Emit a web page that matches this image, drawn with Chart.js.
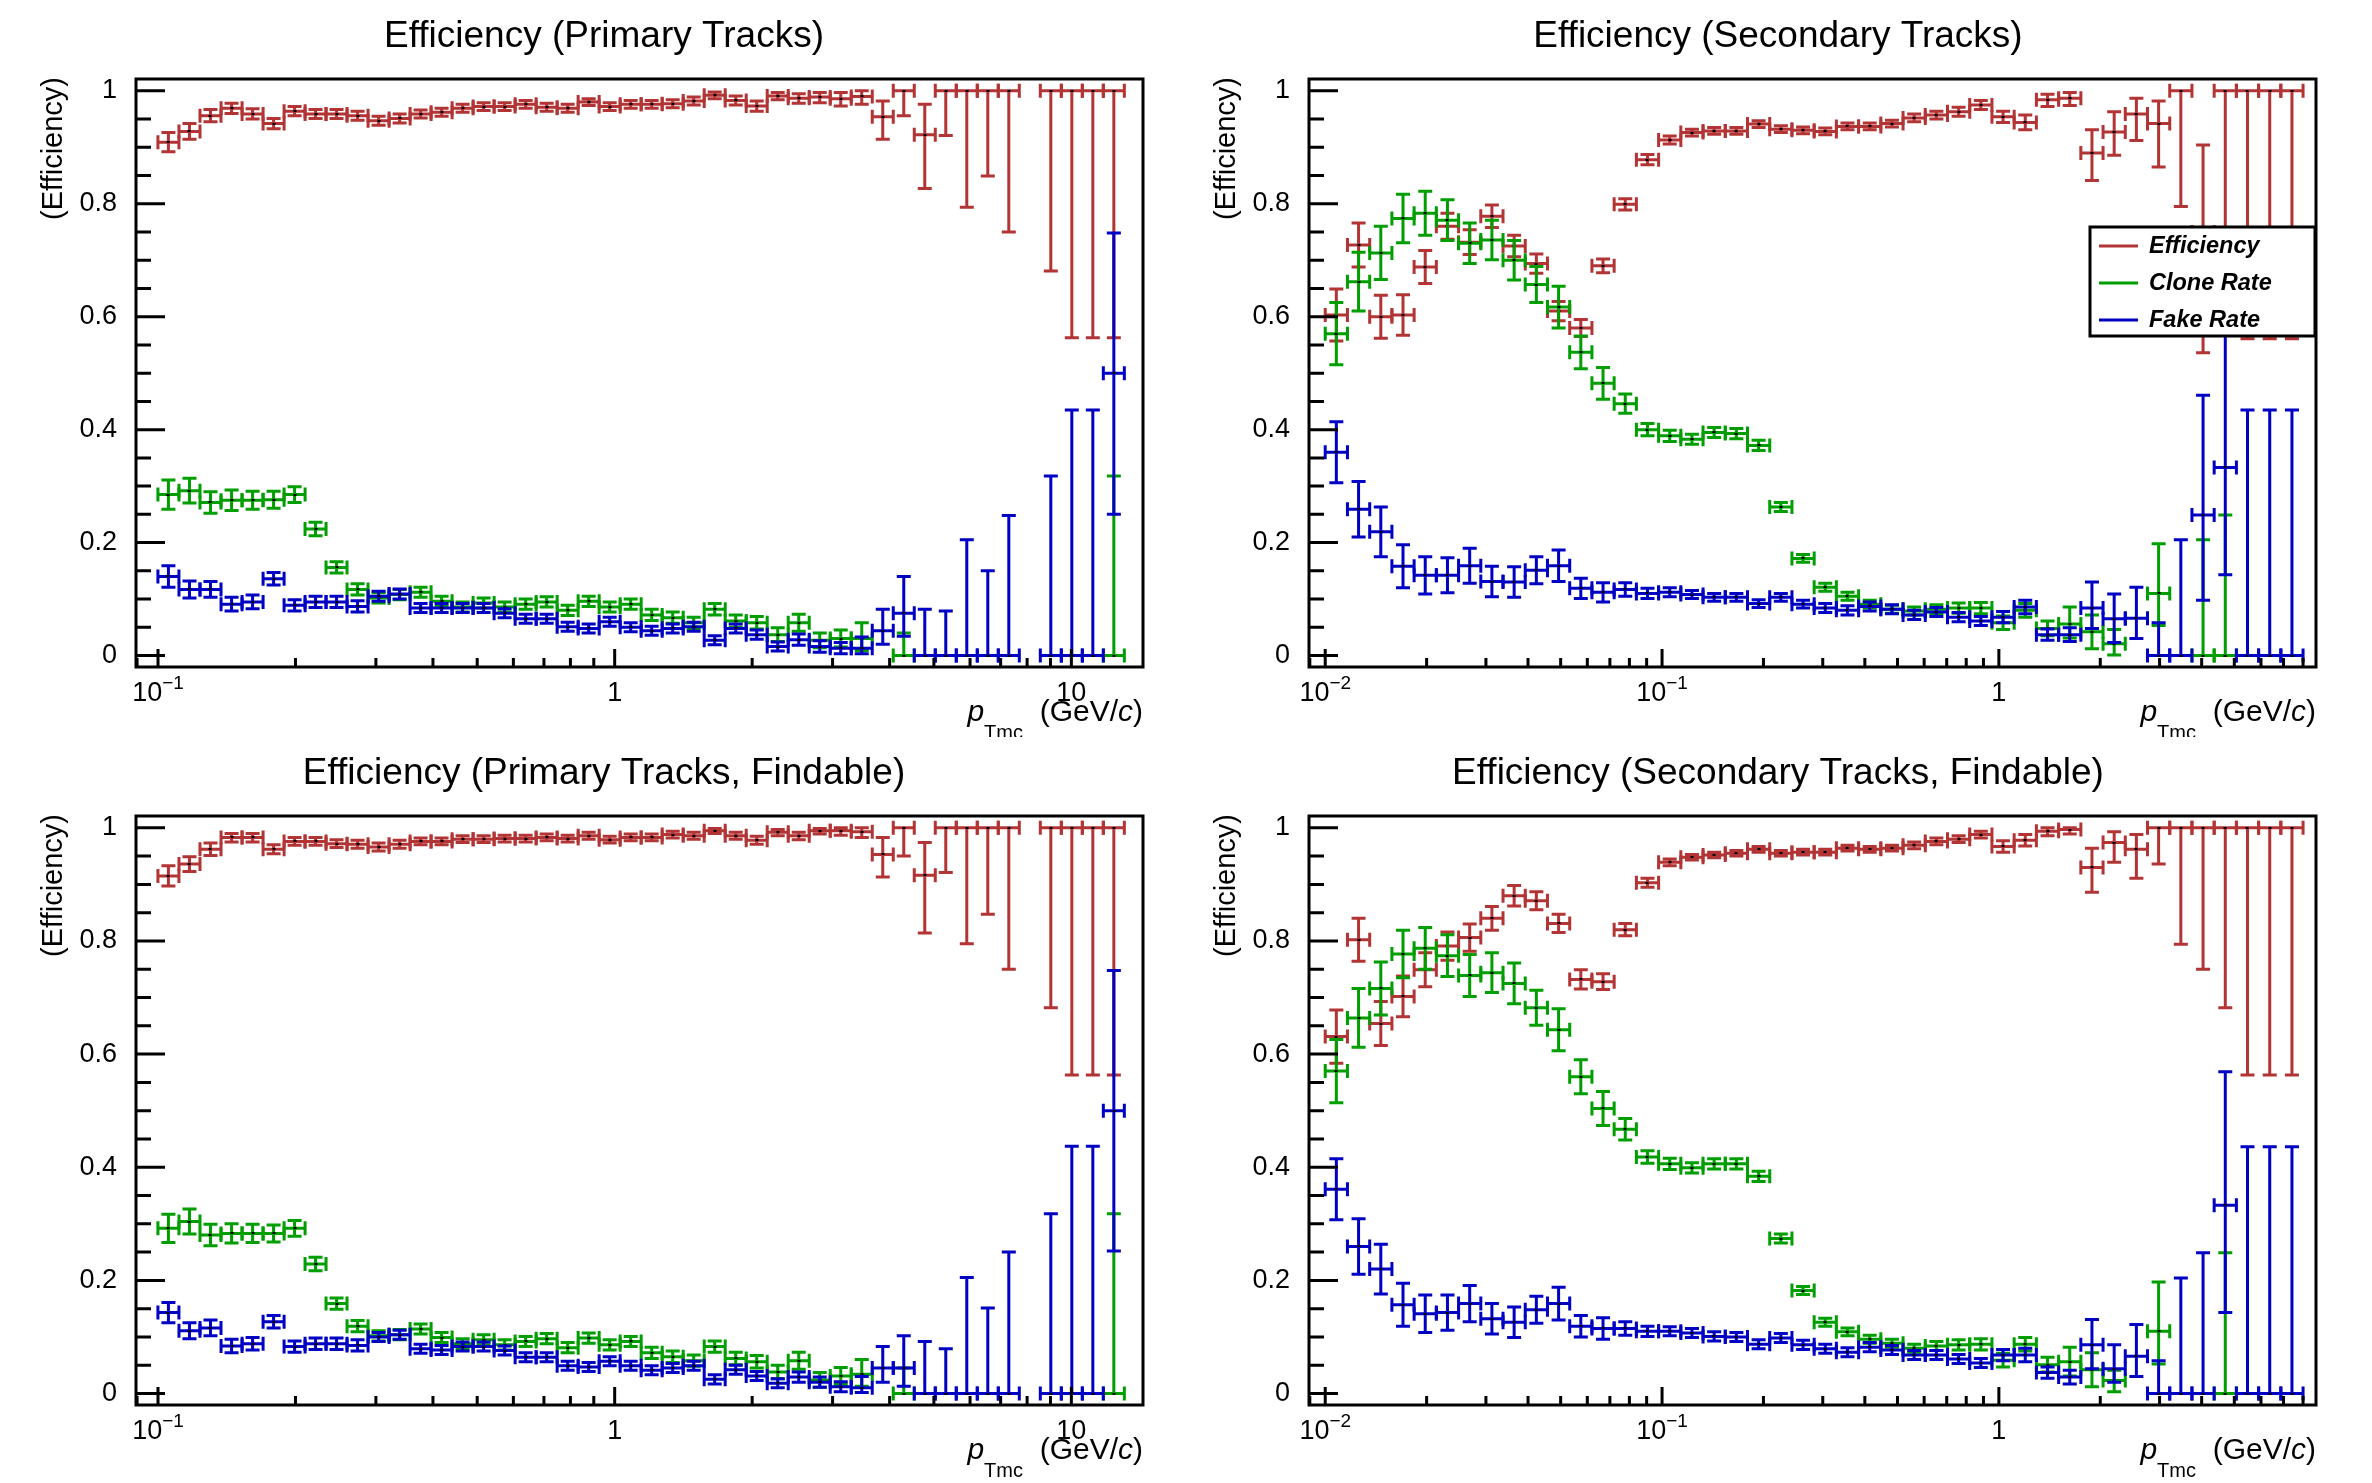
<!DOCTYPE html>
<html><head><meta charset="utf-8">
<script src="https://cdn.jsdelivr.net/npm/chart.js@4.4.1/dist/chart.umd.min.js"></script>
<style>
html,body{margin:0;padding:0;background:#fff;}
body{width:2372px;height:1483px;position:relative;overflow:hidden;}
canvas{position:absolute;}
</style></head><body>
<canvas id="tl" width="1186" height="737" style="left:0;top:0"></canvas>
<canvas id="tr" width="1186" height="737" style="left:1186px;top:0"></canvas>
<canvas id="bl" width="1186" height="746" style="left:0;top:737px"></canvas>
<canvas id="br" width="1186" height="746" style="left:1186px;top:737px"></canvas>
<script>
// ---------------- DATA ----------------
// bin centres (GeV/c)
const primaryPt = [0.1054,0.1172,0.1303,0.1449,0.1611,0.1791,0.1991,0.2213,0.2460,0.2735,
 0.3041,0.3381,0.3758,0.4178,0.4645,0.5164,0.5741,0.6383,0.7096,0.7889,
 0.8770,0.9750,1.0839,1.2050,1.3397,1.4894,1.6558,1.8408,2.0464,2.2751,
 2.5293,2.8119,3.1261,3.4754,3.8637,4.2954,4.7753,5.3088,5.9020,6.5615,
 7.2946,8.1096,9.0157,10.023,11.143,12.388];
const secondaryPt = [0.010789,0.012560,0.014622,0.017019,0.019811,0.023063,0.026846,0.031250,0.036380,0.042348,
 0.049300,0.057386,0.066801,0.077763,0.090527,0.10538,0.12267,0.14279,0.16622,0.19350,
 0.22525,0.26221,0.30518,0.35526,0.41354,0.48140,0.56040,0.65232,0.75940,0.88397,
 1.0290,1.1977,1.3945,1.6233,1.8894,2.1994,2.5601,2.9803,3.4692,4.0385,
 4.7010,5.4718,6.3700,7.4150];
const primaryBinHalfDex = 0.023;
const secondaryBinHalfDex = 0.033;
const yTickValues = [0,0.2,0.4,0.6,0.8,1];
const seriesNames = ['Efficiency','Clone Rate','Fake Rate'];
const panelTitles = ['Efficiency (Primary Tracks)','Efficiency (Secondary Tracks)',
  'Efficiency (Primary Tracks, Findable)','Efficiency (Secondary Tracks, Findable)'];

// ---- top-left: primary tracks ----
const tlEff = [0.909,0.928,0.956,0.969,0.959,0.942,0.964,0.959,0.959,0.956,
 0.947,0.951,0.959,0.962,0.969,0.972,0.972,0.976,0.971,0.969,
 0.980,0.972,0.976,0.976,0.977,0.982,0.992,0.983,0.973,0.991,
 0.987,0.989,0.986,0.990,0.954,1,0.922,1,1,1,
 1,null,1,1,1,1];
const tlEffLo = [0.017,0.014,0.011,0.009,0.009,0.009,0.008,0.008,0.008,0.008,
 0.008,0.008,0.007,0.007,0.007,0.007,0.007,0.007,0.007,0.007,
 0.006,0.007,0.007,0.007,0.007,0.007,0.006,0.008,0.009,0.007,
 0.009,0.010,0.013,0.014,0.040,0.044,0.095,0.079,0.206,0.151,
 0.250,null,0.319,0.4375,0.4375,0.4375];
const tlEffHi = [0.017,0.014,0.011,0.009,0.009,0.009,0.008,0.008,0.008,0.008,
 0.008,0.008,0.007,0.007,0.007,0.007,0.007,0.007,0.007,0.007,
 0.006,0.007,0.007,0.007,0.007,0.007,0.006,0.008,0.009,0.006,
 0.008,0.008,0.011,0.010,0.028,0,0.054,0,0,0,
 0,null,0,0,0,0];
const tlClone = [0.285,0.292,0.271,0.275,0.275,0.276,0.285,0.224,0.156,0.117,
 0.102,0.108,0.112,0.096,0.086,0.093,0.086,0.091,0.095,0.080,
 0.096,0.086,0.091,0.072,0.067,0.058,0.082,0.061,0.058,0.037,
 0.058,0.027,0.030,0.030,null,0,null,null,null,null,
 null,null,null,null,null,0];
const tlCloneLo = [0.026,0.022,0.019,0.018,0.016,0.015,0.014,0.012,0.010,0.010,
 0.009,0.009,0.009,0.009,0.009,0.009,0.009,0.009,0.009,0.009,
 0.009,0.009,0.009,0.010,0.010,0.010,0.010,0.011,0.011,0.012,
 0.015,0.013,0.015,0.021,null,0,null,null,null,null,
 null,null,null,null,null,0];
const tlCloneHi = [0.026,0.022,0.019,0.018,0.016,0.015,0.014,0.012,0.010,0.010,
 0.009,0.009,0.009,0.009,0.009,0.009,0.009,0.009,0.009,0.009,
 0.009,0.009,0.009,0.010,0.010,0.010,0.010,0.011,0.011,0.012,
 0.015,0.013,0.015,0.028,null,0.040,null,null,null,null,
 null,null,null,null,null,0.318];
const tlFake = [0.140,0.117,0.117,0.091,0.095,0.136,0.089,0.095,0.095,0.087,
 0.105,0.109,0.084,0.084,0.084,0.084,0.075,0.065,0.065,0.051,
 0.048,0.060,0.050,0.044,0.048,0.051,0.027,0.048,0.037,0.016,
 0.028,0.016,0.013,0.013,0.044,0.075,0,0,0,0,
 0,null,0,0,0,0.5];
const tlFakeLo = [0.019,0.015,0.014,0.012,0.012,0.011,0.010,0.010,0.010,0.010,
 0.009,0.009,0.008,0.008,0.008,0.008,0.008,0.008,0.008,0.008,
 0.008,0.008,0.008,0.008,0.008,0.008,0.008,0.008,0.008,0.008,
 0.010,0.010,0.010,0.010,0.024,0.041,0,0,0,0,
 0,null,0,0,0,0.25];
const tlFakeHi = [0.019,0.015,0.014,0.012,0.012,0.011,0.010,0.010,0.010,0.010,
 0.009,0.009,0.008,0.008,0.008,0.008,0.008,0.008,0.008,0.008,
 0.008,0.008,0.008,0.008,0.008,0.008,0.008,0.008,0.008,0.008,
 0.010,0.010,0.010,0.020,0.038,0.065,0.082,0.079,0.205,0.150,
 0.248,null,0.318,0.435,0.435,0.248];

// ---- bottom-left: primary tracks, findable ----
const blEff = [0.915,0.936,0.962,0.983,0.983,0.962,0.976,0.976,0.972,0.971,
 0.966,0.971,0.976,0.976,0.980,0.980,0.981,0.981,0.983,0.981,
 0.986,0.979,0.983,0.983,0.988,0.986,0.995,0.986,0.978,0.992,
 0.986,0.995,0.995,0.993,0.953,1,0.916,1,1,1,
 1,null,1,1,1,1];
const blEffLo = [0.018,0.013,0.011,0.008,0.008,0.008,0.007,0.007,0.007,0.007,
 0.007,0.007,0.006,0.006,0.006,0.006,0.006,0.006,0.006,0.006,
 0.006,0.006,0.006,0.006,0.006,0.006,0.005,0.006,0.007,0.006,
 0.007,0.006,0.008,0.010,0.040,0.050,0.102,0.079,0.205,0.153,
 0.250,null,0.318,0.437,0.437,0.437];
const blEffHi = [0.018,0.013,0.011,0.007,0.007,0.008,0.007,0.007,0.007,0.007,
 0.007,0.007,0.006,0.006,0.006,0.006,0.006,0.006,0.006,0.006,
 0.006,0.006,0.006,0.006,0.006,0.006,0.004,0.006,0.007,0.005,
 0.006,0.004,0.005,0.007,0.030,0,0.058,0,0,0,
 0,null,0,0,0,0];
const blClone = [0.292,0.304,0.280,0.283,0.283,0.283,0.292,0.229,0.159,0.119,
 0.102,0.104,0.114,0.099,0.088,0.095,0.086,0.092,0.097,0.081,
 0.098,0.086,0.092,0.072,0.065,0.058,0.083,0.062,0.056,0.038,
 0.058,0.024,0.031,0.034,null,0,null,null,null,null,
 null,null,null,null,null,0];
const blCloneLo = [0.025,0.022,0.019,0.017,0.016,0.015,0.014,0.012,0.010,0.010,
 0.009,0.009,0.009,0.009,0.009,0.009,0.009,0.009,0.009,0.009,
 0.009,0.009,0.009,0.010,0.010,0.010,0.010,0.011,0.011,0.012,
 0.015,0.013,0.015,0.021,null,0,null,null,null,null,
 null,null,null,null,null,0];
const blCloneHi = [0.025,0.022,0.019,0.017,0.016,0.015,0.014,0.012,0.010,0.010,
 0.009,0.009,0.009,0.009,0.009,0.009,0.009,0.009,0.009,0.009,
 0.009,0.009,0.009,0.010,0.010,0.010,0.010,0.011,0.011,0.012,
 0.015,0.013,0.015,0.026,null,0.045,null,null,null,null,
 null,null,null,null,null,0.318];
const blFake = [0.143,0.111,0.116,0.084,0.088,0.127,0.083,0.088,0.088,0.085,
 0.100,0.104,0.079,0.077,0.083,0.083,0.076,0.064,0.064,0.049,
 0.047,0.057,0.049,0.041,0.045,0.049,0.025,0.042,0.031,0.018,
 0.029,0.020,0.012,0.010,0.045,0.045,0,0,0,0,
 0,null,0,0,0,0.5];
const blFakeLo = [0.018,0.014,0.014,0.012,0.011,0.011,0.010,0.010,0.010,0.010,
 0.008,0.008,0.008,0.008,0.008,0.008,0.008,0.008,0.008,0.008,
 0.008,0.008,0.008,0.008,0.008,0.008,0.008,0.008,0.008,0.008,
 0.009,0.009,0.009,0.008,0.025,0.032,0,0,0,0,
 0,null,0,0,0,0.248];
const blFakeHi = [0.018,0.014,0.014,0.012,0.011,0.011,0.010,0.010,0.010,0.010,
 0.008,0.008,0.008,0.008,0.008,0.008,0.008,0.008,0.008,0.008,
 0.008,0.008,0.008,0.008,0.008,0.008,0.008,0.008,0.008,0.008,
 0.009,0.009,0.009,0.020,0.038,0.057,0.092,0.079,0.205,0.151,
 0.250,null,0.318,0.437,0.437,0.248];

// ---- top-right: secondary tracks ----
const trEff = [0.603,0.727,0.600,0.603,0.688,0.760,0.732,0.778,0.725,0.694,
 0.610,0.580,0.690,0.799,0.878,0.913,0.926,0.929,0.929,0.941,
 0.932,0.930,0.928,0.937,0.937,0.942,0.952,0.957,0.963,0.975,
 0.954,0.944,0.984,0.987,0.890,0.927,0.959,0.942,1,0.75,
 1,1,1,1];
const trEffLo = [0.046,0.039,0.038,0.036,0.029,0.023,0.022,0.020,0.019,0.017,
 0.017,0.015,0.012,0.010,0.009,0.007,0.006,0.006,0.006,0.006,
 0.006,0.006,0.006,0.006,0.006,0.006,0.007,0.007,0.008,0.008,
 0.010,0.013,0.012,0.013,0.049,0.041,0.047,0.077,0.205,0.214,
 0.313,0.439,0.439,0.439];
const trEffHi = [0.046,0.039,0.038,0.036,0.029,0.023,0.022,0.020,0.019,0.017,
 0.017,0.015,0.012,0.010,0.009,0.007,0.006,0.006,0.006,0.006,
 0.006,0.006,0.006,0.006,0.006,0.006,0.007,0.007,0.008,0.008,
 0.010,0.013,0.010,0.010,0.041,0.036,0.028,0.040,0,0.154,
 0,0,0,0];
const trClone = [0.570,0.662,0.713,0.774,0.783,0.771,0.730,0.736,0.700,0.657,
 0.617,0.537,0.482,0.446,0.400,0.389,0.383,0.395,0.393,0.372,
 0.263,0.172,0.121,0.105,0.091,0.082,0.079,0.082,0.084,0.084,
 0.058,0.080,0.048,0.056,0.042,0.021,null,0.110,null,0,
 0,null,null,null];
const trCloneLo = [0.055,0.052,0.047,0.043,0.039,0.036,0.036,0.035,0.035,0.032,
 0.037,0.029,0.028,0.017,0.011,0.010,0.009,0.009,0.009,0.009,
 0.008,0.007,0.007,0.007,0.007,0.007,0.007,0.008,0.009,0.010,
 0.012,0.012,0.013,0.025,0.030,0.020,null,0.057,null,0,
 0,null,null,null];
const trCloneHi = [0.055,0.052,0.047,0.043,0.039,0.036,0.036,0.035,0.035,0.032,
 0.037,0.029,0.028,0.017,0.011,0.010,0.009,0.009,0.009,0.009,
 0.008,0.007,0.007,0.007,0.007,0.007,0.007,0.008,0.009,0.010,
 0.012,0.012,0.013,0.030,0.030,0.025,null,0.088,null,0.205,
 0.249,null,null,null];
const trFake = [0.360,0.259,0.219,0.158,0.142,0.142,0.159,0.131,0.130,0.151,
 0.159,0.119,0.112,0.117,0.110,0.112,0.108,0.103,0.103,0.092,
 0.103,0.091,0.084,0.080,0.087,0.082,0.072,0.077,0.068,0.061,
 0.068,0.086,0.037,0.037,0.084,0.065,0.066,0,0,0.249,
 0.333,0,0,0];
const trFakeLo = [0.054,0.049,0.044,0.038,0.033,0.031,0.031,0.027,0.027,0.024,
 0.028,0.018,0.017,0.012,0.009,0.008,0.007,0.007,0.007,0.007,
 0.007,0.007,0.008,0.008,0.008,0.008,0.008,0.008,0.008,0.008,
 0.010,0.012,0.010,0.012,0.036,0.042,0.036,0,0,0.151,
 0.190,0,0,0];
const trFakeHi = [0.054,0.049,0.044,0.038,0.033,0.031,0.031,0.027,0.027,0.024,
 0.028,0.018,0.017,0.012,0.009,0.008,0.007,0.007,0.007,0.007,
 0.007,0.007,0.008,0.008,0.008,0.008,0.008,0.008,0.008,0.008,
 0.010,0.012,0.010,0.012,0.046,0.044,0.055,0.058,0.205,0.212,
 0.240,0.435,0.435,0.435];

// ---- bottom-right: secondary tracks, findable ----
const brEff = [0.631,0.802,0.654,0.702,0.749,0.791,0.806,0.840,0.880,0.871,
 0.831,0.732,0.728,0.820,0.903,0.939,0.948,0.952,0.955,0.962,
 0.955,0.957,0.957,0.964,0.962,0.964,0.969,0.976,0.980,0.988,
 0.967,0.978,0.994,0.997,0.930,0.974,0.962,1,1,1,
 1,1,1,1];
const brEffLo = [0.047,0.038,0.039,0.036,0.030,0.025,0.024,0.021,0.018,0.016,
 0.016,0.017,0.014,0.011,0.008,0.006,0.005,0.005,0.005,0.005,
 0.005,0.005,0.005,0.005,0.005,0.005,0.006,0.006,0.006,0.006,
 0.010,0.010,0.008,0.008,0.044,0.035,0.051,0.064,0.206,0.250,
 0.318,0.437,0.437,0.437];
const brEffHi = [0.047,0.038,0.039,0.036,0.030,0.025,0.024,0.021,0.018,0.016,
 0.016,0.017,0.014,0.011,0.008,0.006,0.005,0.005,0.005,0.005,
 0.005,0.005,0.005,0.005,0.005,0.005,0.006,0.006,0.006,0.006,
 0.010,0.010,0.006,0.003,0.034,0.019,0.026,0,0,0,
 0,0,0,0];
const brClone = [0.570,0.664,0.716,0.777,0.787,0.774,0.739,0.744,0.725,0.682,
 0.643,0.560,0.504,0.467,0.418,0.406,0.399,0.406,0.406,0.384,
 0.274,0.182,0.126,0.109,0.096,0.089,0.080,0.084,0.086,0.087,
 0.059,0.087,0.051,0.056,0.042,0.023,null,0.110,null,null,
 0,null,null,null];
const brCloneLo = [0.056,0.052,0.047,0.042,0.037,0.037,0.037,0.035,0.036,0.031,
 0.037,0.030,0.030,0.019,0.011,0.010,0.009,0.009,0.009,0.009,
 0.008,0.007,0.007,0.007,0.007,0.007,0.007,0.008,0.009,0.010,
 0.012,0.012,0.013,0.025,0.030,0.020,null,0.058,null,null,
 0,null,null,null];
const brCloneHi = [0.056,0.052,0.047,0.042,0.037,0.037,0.037,0.035,0.036,0.031,
 0.037,0.030,0.030,0.019,0.011,0.010,0.009,0.009,0.009,0.009,
 0.008,0.007,0.007,0.007,0.007,0.007,0.007,0.008,0.009,0.010,
 0.012,0.012,0.013,0.026,0.030,0.018,null,0.087,null,null,
 0.249,null,null,null];
const brFake = [0.361,0.260,0.220,0.157,0.141,0.143,0.159,0.132,0.126,0.148,
 0.159,0.119,0.115,0.115,0.110,0.110,0.107,0.101,0.100,0.087,
 0.098,0.086,0.079,0.073,0.082,0.077,0.068,0.068,0.061,0.054,
 0.068,0.068,0.037,0.029,0.086,0.044,0.066,0,0,0,
 0.333,0,0,0];
const brFakeLo = [0.054,0.049,0.044,0.038,0.033,0.031,0.032,0.027,0.027,0.024,
 0.029,0.019,0.019,0.012,0.009,0.008,0.008,0.008,0.008,0.008,
 0.008,0.008,0.008,0.008,0.008,0.008,0.008,0.008,0.008,0.008,
 0.010,0.012,0.010,0.012,0.042,0.024,0.036,0,0,0,
 0.190,0,0,0];
const brFakeHi = [0.054,0.049,0.044,0.038,0.033,0.031,0.032,0.027,0.027,0.024,
 0.029,0.019,0.019,0.012,0.009,0.008,0.008,0.008,0.008,0.008,
 0.008,0.008,0.008,0.008,0.008,0.008,0.008,0.008,0.008,0.008,
 0.010,0.012,0.010,0.012,0.045,0.042,0.056,0.058,0.204,0.249,
 0.236,0.436,0.436,0.436];

// ---------------- STYLE ----------------
const COLORS = ['#b33434','#009e00','#0000c4'];
const FONT = '"Liberation Sans", Arial, Helvetica, sans-serif';
const LW = 3, CAP = 7, FRAME_LW = 3;
const Y_AXIS_W = 100;

// error-bar drawing (ROOT style "E1 with end ticks")
const errorBarPlugin = {
  id: 'rootErrorBars',
  afterDatasetsDraw(chart) {
    const ctx = chart.ctx, xs = chart.scales.x, ys = chart.scales.y, a = chart.chartArea;
    ctx.save();
    ctx.beginPath(); ctx.rect(a.left, a.top, a.right - a.left, a.bottom - a.top); ctx.clip();
    chart.data.datasets.forEach(ds => {
      const f = Math.pow(10, ds.halfDex);
      ctx.strokeStyle = ds.borderColor; ctx.lineWidth = LW; ctx.lineCap = 'butt';
      ds.data.forEach(p => {
        const px = xs.getPixelForValue(p.x), py = ys.getPixelForValue(p.y);
        const x0 = xs.getPixelForValue(p.x / f), x1 = xs.getPixelForValue(p.x * f);
        const y0 = ys.getPixelForValue(p.y - p.lo), y1 = ys.getPixelForValue(p.y + p.hi);
        ctx.beginPath();
        ctx.moveTo(x0, py); ctx.lineTo(x1, py);
        ctx.moveTo(x0, py - CAP); ctx.lineTo(x0, py + CAP);
        ctx.moveTo(x1, py - CAP); ctx.lineTo(x1, py + CAP);
        if (p.lo > 0 || p.hi > 0) {
          ctx.moveTo(px, y0); ctx.lineTo(px, y1);
          if (p.lo > 0) { ctx.moveTo(px - CAP, y0); ctx.lineTo(px + CAP, y0); }
          if (p.hi > 0) { ctx.moveTo(px - CAP, y1); ctx.lineTo(px + CAP, y1); }
        }
        ctx.stroke();
      });
      ctx.fillStyle = '#000';
      ds.data.forEach(p => {
        const px = xs.getPixelForValue(p.x), py = ys.getPixelForValue(p.y);
        ctx.fillRect(Math.round(px) - 1.5, Math.round(py) - 1, 3, 2);
      });
    });
    ctx.restore();
  }
};

// frame, ticks, x labels, titles, legend
const decorPlugin = {
  id: 'rootDecor',
  afterDraw(chart) {
    const o = chart.options.plugins.rootDecor;
    const ctx = chart.ctx, xs = chart.scales.x, ys = chart.scales.y, a = chart.chartArea;
    ctx.save();
    ctx.strokeStyle = '#000'; ctx.lineWidth = FRAME_LW; ctx.lineCap = 'butt';
    // y ticks
    ctx.beginPath();
    for (let k = 0; k <= 20; k++) {
      const v = k * 0.05, y = ys.getPixelForValue(v);
      const len = (k % 4 === 0) ? 29 : 15;
      ctx.moveTo(a.left, y); ctx.lineTo(a.left + len, y);
    }
    // x ticks
    const lo = Math.floor(Math.log10(xs.min)), hi = Math.ceil(Math.log10(xs.max));
    for (let e = lo; e <= hi; e++) {
      for (let m = 1; m <= 9; m++) {
        const v = m * Math.pow(10, e);
        if (v < xs.min || v > xs.max) continue;
        const x = xs.getPixelForValue(v);
        const len = m === 1 ? 18 : 9;
        ctx.moveTo(x, a.bottom); ctx.lineTo(x, a.bottom - len);
      }
    }
    ctx.stroke();
    // frame
    ctx.strokeRect(a.left, a.top, a.right - a.left, a.bottom - a.top);
    // x tick labels
    ctx.fillStyle = '#000'; ctx.textBaseline = 'alphabetic';
    o.xLabels.forEach(l => {
      const x = xs.getPixelForValue(l.v);
      ctx.font = '27px ' + FONT;
      const wb = ctx.measureText(l.base).width;
      let ws = 0;
      if (l.exp) { ctx.font = '19px ' + FONT; ws = ctx.measureText(l.exp).width; }
      const x0 = x - (wb + ws) / 2, yb = a.bottom + 34;
      ctx.font = '27px ' + FONT; ctx.textAlign = 'left';
      ctx.fillText(l.base, x0, yb);
      if (l.exp) { ctx.font = '19px ' + FONT; ctx.fillText(l.exp, x0 + wb, yb - 12); }
    });
    // x axis title: p_{Tmc} (GeV/c)
    {
      const yb = a.bottom + 54;
      const parts = [
        {t: 'p', f: 'italic 30px ' + FONT, dy: 0},
        {t: 'Tmc', f: '20px ' + FONT, dy: 18},
        {t: '  (GeV/', f: '30px ' + FONT, dy: 0},
        {t: 'c', f: 'italic 30px ' + FONT, dy: 0},
        {t: ')', f: '30px ' + FONT, dy: 0}
      ];
      let w = 0; parts.forEach(p => { ctx.font = p.f; p.w = ctx.measureText(p.t).width; w += p.w; });
      let x = a.right - w; ctx.textAlign = 'left';
      parts.forEach(p => { ctx.font = p.f; ctx.fillText(p.t, x, yb + p.dy); x += p.w; });
    }
    // y axis title
    ctx.save();
    ctx.translate(a.left - 82, a.top - 2);
    ctx.rotate(-Math.PI / 2);
    ctx.font = '29px ' + FONT; ctx.textAlign = 'right'; ctx.textBaseline = 'middle';
    ctx.fillText('(Efficiency)', 0, 0);
    ctx.restore();
    // panel title
    ctx.font = '37px ' + FONT; ctx.textAlign = 'center'; ctx.textBaseline = 'alphabetic';
    ctx.fillText(o.title, o.titleX, 47);
    // legend
    if (o.legend) {
      const L = o.legend;
      ctx.fillStyle = '#fff'; ctx.fillRect(L.x, L.y, L.w, L.h);
      ctx.lineWidth = 3; ctx.strokeStyle = '#000'; ctx.strokeRect(L.x, L.y, L.w, L.h);
      chart.data.datasets.forEach((ds, i) => {
        const yy = L.y + 19 + i * 37;
        ctx.strokeStyle = ds.borderColor; ctx.lineWidth = 3;
        ctx.beginPath(); ctx.moveTo(L.x + 9, yy); ctx.lineTo(L.x + 48, yy); ctx.stroke();
        ctx.fillStyle = '#000'; ctx.font = 'italic bold 23.5px ' + FONT;
        ctx.textAlign = 'left'; ctx.textBaseline = 'middle';
        ctx.fillText(ds.label, L.x + 59, yy + 1);
      });
    }
    ctx.restore();
  }
};

function buildPoints(xv, yv, lov, hiv) {
  const out = [];
  xv.forEach((x, i) => {
    if (yv[i] === null || yv[i] === undefined) return;
    out.push({x: x, y: yv[i], lo: lov[i], hi: hiv[i]});
  });
  return out;
}

function makePanel(id, cfg) {
  const cv = document.getElementById(id);
  const W = cv.width, H = cv.height;
  const datasets = cfg.series.map((s, i) => ({
    label: seriesNames[i],
    data: buildPoints(cfg.x, s[0], s[1], s[2]),
    borderColor: COLORS[i], backgroundColor: COLORS[i],
    pointRadius: 0, showLine: false, halfDex: cfg.halfDex
  }));
  return new Chart(cv.getContext('2d'), {
    type: 'scatter',
    data: {datasets},
    options: {
      responsive: false, animation: false, devicePixelRatio: 1,
      layout: {padding: {left: cfg.frame[0] - Y_AXIS_W, right: W - cfg.frame[1], top: cfg.frame[2], bottom: H - cfg.frame[3]}},
      plugins: {legend: {display: false}, tooltip: {enabled: false}, title: {display: false},
        rootDecor: {xLabels: cfg.xLabels, title: cfg.title, titleX: cfg.titleX, legend: cfg.legend}},
      scales: {
        x: {type: 'logarithmic', min: cfg.xmin, max: cfg.xmax, display: false},
        y: {type: 'linear', min: -0.0203, max: 1.0209,
          grid: {display: false}, border: {display: false},
          ticks: {color: '#000', padding: 11, font: {family: FONT, size: 27},
            callback: v => (v === 0 ? '0' : v === 1 ? '1' : v.toFixed(1))},
          afterBuildTicks: s => { s.ticks = yTickValues.map(v => ({value: v})); },
          afterFit: s => { s.width = Y_AXIS_W; }
        }
      }
    },
    plugins: [errorBarPlugin, decorPlugin]
  });
}

const primLabels = [{v: 0.1, base: '10', exp: '\u22121'}, {v: 1, base: '1'}, {v: 10, base: '10'}];
const secLabels = [{v: 0.01, base: '10', exp: '\u22122'}, {v: 0.1, base: '10', exp: '\u22121'}, {v: 1, base: '1'}];

makePanel('tl', {x: primaryPt, halfDex: primaryBinHalfDex, xmin: 0.0895, xmax: 14.35,
  frame: [136, 1143, 79, 667], xLabels: primLabels, title: panelTitles[0], titleX: 604,
  series: [[tlEff, tlEffLo, tlEffHi], [tlClone, tlCloneLo, tlCloneHi], [tlFake, tlFakeLo, tlFakeHi]]});
makePanel('tr', {x: secondaryPt, halfDex: secondaryBinHalfDex, xmin: 0.00895, xmax: 8.74,
  frame: [123, 1130, 79, 667], xLabels: secLabels, title: panelTitles[1], titleX: 592,
  legend: {x: 904, y: 227, w: 225, h: 109},
  series: [[trEff, trEffLo, trEffHi], [trClone, trCloneLo, trCloneHi], [trFake, trFakeLo, trFakeHi]]});
makePanel('bl', {x: primaryPt, halfDex: primaryBinHalfDex, xmin: 0.0895, xmax: 14.35,
  frame: [136, 1143, 79, 668], xLabels: primLabels, title: panelTitles[2], titleX: 604,
  series: [[blEff, blEffLo, blEffHi], [blClone, blCloneLo, blCloneHi], [blFake, blFakeLo, blFakeHi]]});
makePanel('br', {x: secondaryPt, halfDex: secondaryBinHalfDex, xmin: 0.00895, xmax: 8.74,
  frame: [123, 1130, 79, 668], xLabels: secLabels, title: panelTitles[3], titleX: 592,
  series: [[brEff, brEffLo, brEffHi], [brClone, brCloneLo, brCloneHi], [brFake, brFakeLo, brFakeHi]]});
</script>
</body></html>
